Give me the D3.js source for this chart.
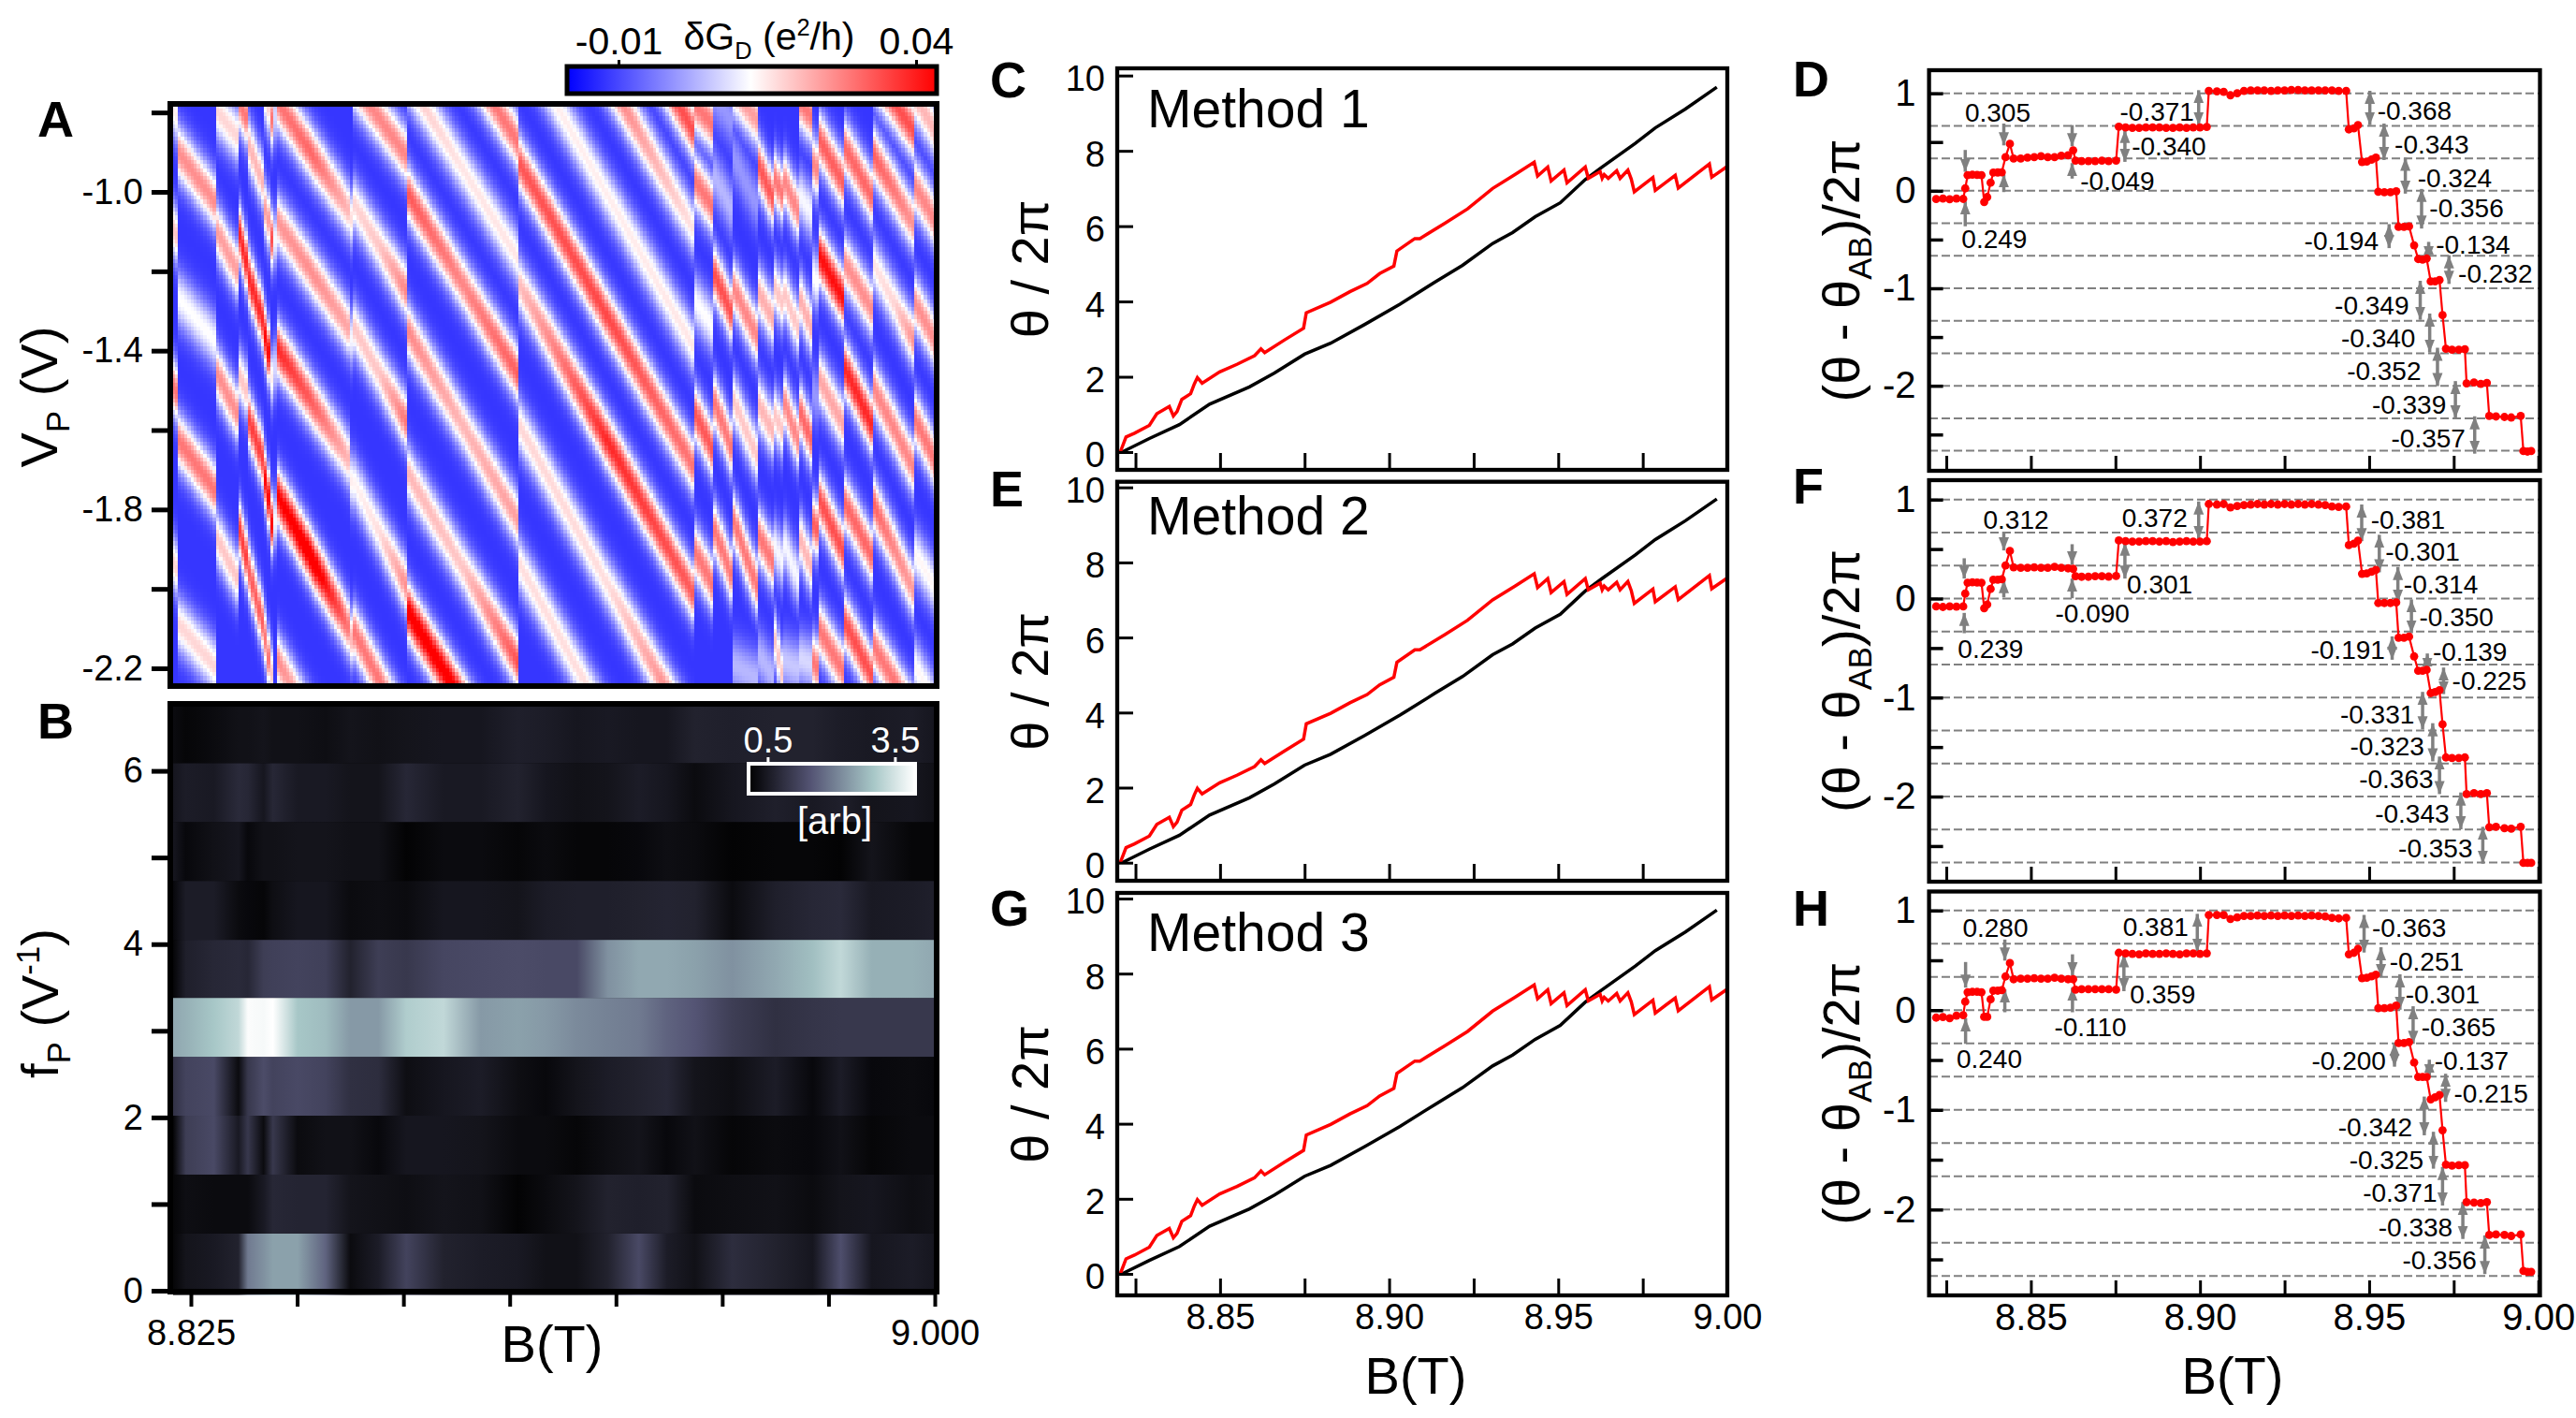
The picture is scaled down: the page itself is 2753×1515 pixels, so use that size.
<!DOCTYPE html>
<html>
<head>
<meta charset="utf-8">
<script src="https://cdn.jsdelivr.net/npm/d3@7"></script>
<style>
  html, body { margin: 0; padding: 0; background: #fff; }
  svg { display: block; }
  text { font-family: "Liberation Sans", Arial, sans-serif; fill: #000; }
</style>
</head>
<body>
<div id="fig"></div>
<script>
// --- panel A: stripes, one list per sector between the jumps
// each crest is [V at left edge, V at right edge, peak dG] (peak may be [left, mid, right])
var sectorEdges = [8.8208, 8.8220, 8.8310, 8.8360, 8.8382, 8.8421, 8.8435, 8.8443, 8.8450, 8.8621, 8.8628, 8.8756, 8.9022,
  8.9437, 8.9478, 8.9525, 8.9584, 8.9624, 8.9643, 8.9678, 8.9712, 8.9725, 8.9785, 8.9852, 8.9952, 8.9998];
var sectorCrests = [
  [[-.795,-.815,.015],[-1.097,-1.117,.02],[-1.493,-1.513,.03],[-1.936,-1.956,.018]],
  [[-.899,-1.031,.027],[-1.266,-1.380,.013],[-1.625,-1.757,.03],[-2.087,-2.200,.018]],
  [[-.795,-.861,.018],[-1.097,-1.200,.025],[-1.455,-1.559,.027],[-1.870,-1.974,.02]],
  [[-.767,-.814,.03],[-1.087,-1.181,.04],[-1.455,-1.502,.02],[-1.832,-1.926,.037]],
  [[-.870,-.983,.022],[-1.200,-1.332,.04],[-1.559,-1.681,.037],[-1.936,-2.096,.033]],
  [[-.748,-.795,.018],[-1.031,-1.078,.025],[-1.342,-1.417,.044],[-1.700,-1.785,.044],[-2.096,-2.190,.03]],
  [[-.804,-.824,.03],[-1.106,-1.126,.035],[-1.455,-1.475,.015],[-1.823,-1.843,.044],[-2.200,-2.220,.02]],
  [[-.795,-.815,.008],[-1.106,-1.126,.012],[-1.430,-1.450,.008],[-1.813,-1.833,.012]],
  [[-.767,-1.045,[.03,.032,.022]],[-1.068,-1.342,[.026,.027,.024]],[-1.389,-1.672,[.04,.033,.022]],[-1.757,-2.096,[.044,.05,.03]],[-2.172,-2.502,[.028,.02,.02]]],
  [[-1.059,-1.069,.017],[-1.361,-1.371,.012],[-1.719,-1.729,.015],[-2.115,-2.125,.022]],
  [[-.719,-.908,.028],[-1.021,-1.248,[.018,.02,.028]],[-1.332,-1.578,[.02,.02,.03]],[-1.719,-1.992,[.014,.017,.027]],[-2.096,-2.360,.03]],
  [[-.427,-.880,.03],[-.710,-1.172,[.02,.016,.016]],[-.998,-1.464,[.034,.028,.033]],[-1.342,-1.832,[.028,.022,.025]],[-1.700,-2.190,[.022,.02,.035]],[-2.049,-2.520,.047]],
  [[-.083,-.856,.035],[-.319,-1.101,[.03,.03,.016]],[-.616,-1.398,[.015,.015,.016]],[-.927,-1.700,[.034,.036,.03]],[-1.233,-2.021,[.021,.04,.033]],[-1.587,-2.386,[.018,.017,.032]],[-1.936,-2.737,.017]],
  [[-.781,-.833,.03],[-.974,-1.040,.03],[-1.276,-1.342,.013],[-1.559,-1.653,.034],[-1.908,-1.992,.03]],
  [[-.757,-.823,0],[-.955,-1.049,.004],[-1.200,-1.314,.035],[-1.521,-1.653,.03],[-1.842,-1.974,.03]],
  [[-.738,-.823,.025],[-.908,-1.040,0],[-1.238,-1.370,.028],[-1.521,-1.672,.02],[-1.823,-2.002,.03],[-2.190,-2.228,.004]],
  [[-.927,-1.031,.034],[-1.248,-1.332,.023],[-1.530,-1.615,.022],[-1.860,-1.945,.03],[-2.162,-2.228,.004]],
  [[-.965,-1.012,.03],[-1.238,-1.285,.02],[-1.559,-1.606,.02],[-1.889,-1.936,.012],[-2.124,-2.228,.02]],
  [[-.965,-1.049,.028],[-1.248,-1.342,.02],[-1.521,-1.625,.028],[-1.879,-1.974,.012],[-2.180,-2.200,.006]],
  [[-.767,-.814,.03],[-1.002,-1.059,.012],[-1.257,-1.351,.023],[-1.540,-1.634,.032],[-1.860,-1.955,.022],[-2.171,-2.191,.008]],
  [[-.926,-.946,.028],[-1.209,-1.229,.013],[-1.502,-1.522,0],[-1.832,-1.852,.033],[-2.180,-2.200,.03]],
  [[-.861,-.979,.033],[-1.153,-1.271,.043],[-1.464,-1.587,.024],[-1.766,-1.908,.035],[-2.096,-2.209,.03]],
  [[-.880,-1.012,.032],[-1.172,-1.295,.027],[-1.436,-1.587,.04],[-1.776,-1.917,.032],[-2.077,-2.219,.035]],
  [[-.691,-.851,.035],[-.899,-1.087,[.033,.03,.026]],[-1.172,-1.380,[.016,.018,.027]],[-1.483,-1.700,.028],[-1.776,-2.011,[.033,.028,.025]],[-2.134,-2.322,.03]],
  [[-.757,-.842,.022],[-.983,-1.068,.028],[-1.276,-1.370,.027],[-1.568,-1.672,.03],[-1.908,-1.992,.014],[-2.190,-2.285,.014]]
];

// --- panel B: FFT amplitude, rows from low f to high f, sampled at fftB
var fftB = [8.8209,8.8238,8.8304,8.8362,8.8384,8.8421,8.8443,8.8501,8.8567,8.8625,8.8691,8.8757,8.8844,8.8932,8.9019,8.9085,8.9158,8.9231,8.9304,8.9370,8.9436,8.9523,8.9625,8.9713,8.9779,8.9852,8.9947,8.9998];
var fftEdges = [-0.05, .66, 1.34, 2.02, 2.70, 3.38, 4.05, 4.73, 5.41, 6.09, 6.76];
var fftRows = [
  [.1,.35,.45,.6,2.0,2.3,2.5,2.5,1.7,.2,.5,1.2,.6,.5,.45,.3,.3,.6,1.3,.5,.3,.8,.6,.4,1.4,.4,.5,.4],
  [.1,.25,.2,.2,.2,.45,.7,.65,.65,.35,.3,.25,.35,.3,.05,.2,.35,.6,.55,.6,.2,.25,.3,.2,.35,.4,.25,.3],
  [.1,1.1,1.3,.45,1.0,.2,1.0,.2,.3,.3,.15,.4,.4,.35,.2,.2,.1,.25,.35,.15,.3,.1,.2,.15,.3,.1,.2,.2],
  [.9,1.2,1.3,.2,1.0,1.35,1.2,1.3,1.2,.85,.8,.25,.4,.5,.25,.15,.35,.5,.6,.7,.35,.25,.5,.15,.5,.15,.2,.15],
  [2.6,2.7,3.0,3.3,3.95,3.9,4.0,3.0,2.85,2.4,2.4,3.1,3.3,2.4,2.5,2.4,2.2,2.1,2.0,1.7,1.5,1.1,.85,.95,1.0,1.0,1.0,1.0],
  [.1,.55,.7,.75,.7,1.1,1.15,1.2,1.15,.6,1.1,1.0,1.25,1.3,1.35,1.3,1.3,2.3,2.6,2.6,2.5,2.3,2.6,2.9,3.3,2.7,2.7,2.6],
  [.15,.5,.5,.2,.15,.1,.25,.4,.4,.2,.25,.2,.4,.4,.35,.5,.55,.55,.6,.65,.6,.2,.55,.7,.75,.45,.5,.55],
  [.4,.15,.3,.4,.15,.3,.3,.35,.35,.3,.3,.05,.2,.2,.1,.2,.1,.1,.15,.25,.2,.05,.1,.1,.05,.35,.1,.1],
  [.4,.5,.45,.75,.7,.4,.7,.45,.45,.35,.35,.7,.45,.45,.6,.4,.3,.35,.5,.4,.2,.4,.55,.45,.55,.35,.4,.3],
  [.2,.1,.2,.3,.3,.35,.3,.3,.25,.35,.3,.35,.4,.4,.55,.5,.4,.45,.4,.4,.6,.55,.6,.6,.5,.45,.5,.4]
];

// --- panels C, E, G: total phase (red) and Aharonov-Bohm phase (black)
var thetaB = [8.8205,8.8222,8.8247,8.8291,8.8313,8.8350,8.8362,8.8373,8.8387,8.8413,8.8424,8.8433,8.8447,8.8499,8.8550,8.8602,8.8621,8.8632,8.8691,8.8747,8.8755,8.8827,8.8884,8.8935,8.8972,8.9014,8.9023,8.9076,8.9091,8.9165,8.9232,8.9306,8.9372,8.9429,8.9439,8.9469,8.9479,8.9517,8.9526,8.9580,8.9589,8.9624,8.9630,8.9636,8.9648,8.9673,8.9683,8.9706,8.9716,8.9725,8.9780,8.9787,8.9846,8.9855,8.9947,8.9954,8.9999];
var thetaRed = [0,.40,.50,.71,1.02,1.21,.96,1.08,1.40,1.55,1.81,1.98,1.83,2.13,2.33,2.56,2.74,2.64,2.98,3.29,3.70,3.98,4.26,4.48,4.74,4.94,5.34,5.67,5.67,6.08,6.46,7.00,7.37,7.70,7.33,7.57,7.20,7.49,7.15,7.57,7.27,7.45,7.27,7.37,7.27,7.47,7.27,7.49,7.25,6.91,7.29,6.95,7.35,7.01,7.65,7.30,7.58];
var abB = [8.8210,8.8291,8.8380,8.8469,8.8587,8.8661,8.8750,8.8827,8.8928,8.9032,8.9135,8.9217,8.9306,8.9365,8.9432,8.9506,8.9580,8.9631,8.9728,8.9787,8.9876,8.9969];
var abTheta = [0,.36,.73,1.27,1.73,2.10,2.60,2.89,3.39,3.93,4.51,4.96,5.54,5.83,6.25,6.62,7.24,7.58,8.20,8.61,9.11,9.69];
var methodNames = ["Method 1", "Method 2", "Method 3"];

// --- panels D, F, H: theta - theta_AB
var stepB = [8.822,8.824,8.826,8.828,8.830, 8.8306, 8.8313,8.8327,8.8341,8.8354, 8.8362,8.8371,8.8381, 8.8389,8.8402,8.8414, 8.8425,8.8438,
  8.8449,8.847,8.849,8.851,8.853,8.855,8.857,8.859,8.861,8.8625, 8.8632,8.865,8.867,8.869,8.871,8.873,8.8752,
  8.8760,8.878,8.880,8.882,8.884,8.886,8.888,8.890,8.892,8.894,8.896,8.898,8.900,8.902,
  8.9026,8.905,8.907,8.909,8.911,8.913,8.915,8.917,8.919,8.921,8.923,8.925,8.927,8.929,8.931,8.933,8.935,8.937,8.939,8.941,8.9432,
  8.944,8.9455,8.9467, 8.9479,8.9493,8.9507,8.952, 8.9527,8.9545,8.9563,8.958, 8.9587,8.9603,8.9618, 8.9633, 8.9645,8.9658,8.967,
  8.9682,8.9695,8.9708, 8.9717, 8.9727,8.9745,8.9765,8.9783, 8.9788,8.981,8.983,8.9848, 8.9855,8.9875,8.99,8.992,8.9948, 8.9956,8.9968,8.9979];
var stepD = [-.085,-.08,-.086,-.08,-.083, .025, .16,.165,.163,.16, -.115,-.064,.083, .186,.188,.19, .345,.482,
  .33,.33,.34,.345,.355,.345,.345,.36,.365,.415, .31,.305,.305,.305,.31,.305,.31,
  .658,.65,.645,.645,.65,.65,.65,.645,.645,.65,.645,.65,.65,.655,
  1.025,1.02,1.015,.98,1.0,1.025,1.03,1.03,1.03,1.025,1.03,1.03,1.035,1.035,1.03,1.03,1.03,1.03,1.03,1.025,1.025,
  .63,.64,.675, .295,.30,.32,.34, -.01,-.015,-.015,-.005, -.37,-.37,-.365, -.559, -.70,-.705,-.695,
  -.93,-.93,-.915, -1.275, -1.62,-1.63,-1.63,-1.625, -1.975,-1.965,-1.98,-1.97, -2.31,-2.315,-2.32,-2.325,-2.31, -2.67,-2.675,-2.67];
var stepF = [-.08,-.085,-.08,-.082,-.08, .05, .16,.165,.162,.16, -.098,-.06,.098, .19,.19,.195, .334,.48,
  .315,.31,.31,.315,.31,.31,.32,.31,.305,.30, .225,.22,.22,.225,.225,.222,.228,
  .587,.58,.575,.575,.58,.58,.575,.58,.57,.575,.58,.575,.575,.58,
  .955,.95,.955,.92,.935,.945,.95,.955,.95,.955,.95,.955,.95,.955,.95,.955,.95,.945,.93,.925,.93,
  .54,.555,.585, .25,.255,.27,.29, -.045,-.045,-.045,-.04, -.395,-.395,-.385, -.584, -.73,-.73,-.72,
  -.955,-.945,-.925, -1.271, -1.605,-1.61,-1.61,-1.605, -1.975,-1.965,-1.975,-1.965, -2.31,-2.305,-2.32,-2.325,-2.305, -2.67,-2.67,-2.67];
var stepH = [-.075,-.07,-.08,-.055,-.05, .085, .18,.185,.185,.18, -.067,-.067,.109, .195,.195,.2, .338,.472,
  .31,.315,.315,.32,.315,.315,.325,.315,.31,.31, .205,.21,.21,.21,.21,.21,.205,
  .575,.57,.565,.56,.57,.565,.565,.57,.565,.56,.57,.57,.565,.57,
  .955,.955,.955,.915,.93,.945,.945,.95,.945,.95,.945,.95,.945,.95,.945,.95,.945,.94,.925,.92,.925,
  .56,.575,.615, .32,.325,.34,.355, .02,.02,.025,.045, -.33,-.33,-.32, -.525, -.67,-.67,-.67,
  -.895,-.875,-.85, -1.205, -1.55,-1.56,-1.555,-1.555, -1.925,-1.93,-1.935,-1.925, -2.255,-2.25,-2.255,-2.265,-2.25, -2.615,-2.625,-2.625];
var levels = d3.range(12).map(function(i) { return 1 - i / 3; });

// annotations: [text, B, value] and arrows [B, from, to, heads]
var labelsD = [["0.305",8.8402,.808],["0.249",8.8392,-.492],["-0.371",8.8873,.818],["-0.340",8.8908,.457],["-0.049",8.8756,.105],["-0.368",8.9634,.821],["-0.343",8.9685,.482],["-0.324",8.9753,.134],["-0.356",8.9788,-.173],["-0.194",8.9418,-.508],["-0.134",8.9807,-.546],["-0.232",8.9873,-.843],["-0.349",8.9508,-1.173],["-0.340",8.9527,-1.505],["-0.352",8.9544,-1.843],["-0.339",8.9618,-2.192],["-0.357",8.9675,-2.537]];
var arrowsD = [[8.8306,-.364,-.109,1],[8.8306,.419,.195,1],[8.8420,.690,.466,1],[8.8420,-.013,.169,1],[8.8622,.674,.457,1],[8.8622,.125,.284,1],[8.8778,.626,.297,2],[8.8996,1.032,.674,2],[8.9502,1.026,.674,2],[8.9544,.690,.316,2],[8.9607,.339,-.029,2],[8.9655,.019,-.387,2],[8.9559,-.342,-.588,2],[8.9676,-.524,-.700,2],[8.9736,-.661,-.955,2],[8.9651,-.923,-1.323,2],[8.9679,-1.259,-1.658,2],[8.9702,-1.610,-2.003,2],[8.9755,-1.952,-2.335,2],[8.9812,-2.313,-2.696,2]];
var labelsF = [["0.312",8.8456,.801],["0.239",8.8381,-.502],["0.372",8.8866,.823],["0.301",8.8881,.145],["-0.090",8.8682,-.145],["-0.381",8.9615,.801],["-0.301",8.9658,.476],["-0.314",8.9712,.148],["-0.350",8.9758,-.183],["-0.191",8.9437,-.514],["-0.139",8.9798,-.530],["-0.225",8.9855,-.830],["-0.331",8.9524,-1.164],["-0.323",8.9553,-1.486],["-0.363",8.9580,-1.823],["-0.343",8.9627,-2.170],["-0.353",8.9696,-2.517]];
var arrowsF = [[8.8303,-.350,-.145,1],[8.8303,.407,.202,1],[8.8420,.675,.486,1],[8.8420,.013,.186,1],[8.8622,.549,.344,1],[8.8622,.003,.202,1],[8.8778,.565,.202,2],[8.8996,.981,.603,2],[8.9478,.950,.580,2],[8.9530,.644,.265,2],[8.9585,.319,-.041,2],[8.9625,-.009,-.350,2],[8.9568,-.382,-.618,2],[8.9672,-.555,-.729,2],[8.9720,-.697,-.965,2],[8.9658,-.943,-1.322,2],[8.9688,-1.259,-1.644,2],[8.9708,-1.596,-1.975,2],[8.9771,-1.959,-2.331,2],[8.9836,-2.306,-2.678,2]];
var labelsH = [["0.280",8.8395,.832],["0.240",8.8377,-.486],["0.381",8.8869,.835],["0.359",8.8890,.166],["-0.110",8.8676,-.162],["-0.363",8.9618,.825],["-0.251",8.9670,.490],["-0.301",8.9717,.166],["-0.365",8.9764,-.169],["-0.200",8.9440,-.508],["-0.137",8.9803,-.504],["-0.215",8.9860,-.832],["-0.342",8.9518,-1.167],["-0.325",8.9551,-1.495],["-0.371",8.9591,-1.826],["-0.338",8.9637,-2.171],["-0.356",8.9708,-2.499]];
var arrowsH = [[8.8307,-.338,-.081,1],[8.8307,.483,.226,1],[8.8423,.708,.497,1],[8.8423,-.021,.208,1],[8.8623,.560,.349,1],[8.8623,-.021,.226,1],[8.8775,.560,.190,2],[8.8992,.966,.589,2],[8.9485,.955,.578,2],[8.9535,.631,.331,2],[8.9591,.360,.004,2],[8.9630,.039,-.338,2],[8.9575,-.328,-.567,2],[8.9678,-.497,-.673,2],[8.9726,-.638,-.920,2],[8.9663,-.867,-1.255,2],[8.9690,-1.220,-1.590,2],[8.9717,-1.572,-1.960,2],[8.9777,-1.925,-2.295,2],[8.9842,-2.259,-2.647,2]];

var tickBig = 38, labelBig = 56, letterSize = 54, noteSize = 28;

var svg = d3.select("#fig").append("svg").attr("width", 2753).attr("height", 1515);
var defs = svg.append("defs");
defs.append("marker").attr("id", "head").attr("markerUnits", "userSpaceOnUse")
    .attr("markerWidth", 16).attr("markerHeight", 14).attr("refX", 14).attr("refY", 7)
    .attr("orient", "auto-start-reverse")
  .append("path").attr("d", "M0,1.5L14,7L0,12.5Z").attr("fill", "#808080");

// text with sub/superscripts: parts are [string, "sub"|"sup"|undefined]
function rich(sel, parts, fs) {
  var shift = 0;
  parts.forEach(function(p) {
    var target = p[1] == "sub" ? .24 * fs : p[1] == "sup" ? -.36 * fs : 0;
    sel.append("tspan").attr("dy", target - shift)
        .attr("font-size", p[1] ? fs * .62 : fs).text(p[0]);
    shift = target;
  });
  return sel;
}
function letter(t, x, y) {
  svg.append("text").attr("x", x).attr("y", y).attr("font-size", letterSize).attr("font-weight", "bold").text(t);
}
function yTitle(parts, x, y) {
  var t = svg.append("text").attr("transform", "translate(" + x + "," + y + ") rotate(-90)")
      .attr("text-anchor", "middle").attr("font-size", labelBig);
  rich(t, parts, labelBig);
}
function frame(x0, y0, x1, y1, w) {
  svg.append("rect").attr("x", x0).attr("y", y0).attr("width", x1 - x0).attr("height", y1 - y0)
      .attr("fill", "none").attr("stroke", "#000").attr("stroke-width", w);
}
function styleAxis(g, w, fs) {
  g.select(".domain").remove();
  g.selectAll("line").attr("stroke", "#000").attr("stroke-width", w);
  g.selectAll("text").attr("font-size", fs).attr("font-family", null);
  g.attr("font-family", null);
}

// ---------- A ----------
var xAB = d3.scaleLinear().domain([8.825, 9.0]).range([204, 999]);
var yA = d3.scaleLinear().domain([-1.0, -2.2]).range([205, 714]);
var dGColor = d3.scaleLinear().domain([-0.0186, 0.0128, 0.0446]).range(["#0000ff", "#ffffff", "#ff0000"]).clamp(true);

var dGBase = -0.012, crestWidth = 0.07;
function dGAt(b, v) {
  var s = Math.min(d3.bisectRight(sectorEdges, b) - 1, sectorCrests.length - 1);
  s = Math.max(s, 0);
  var t = (b - sectorEdges[s]) / (sectorEdges[s + 1] - sectorEdges[s]);
  var best = dGBase;
  sectorCrests[s].forEach(function(c) {
    var centre = c[0] + (c[1] - c[0]) * t;
    var pk = c[2];
    if (Array.isArray(pk)) pk = d3.scaleLinear().domain([0, .5, 1]).range(pk)(t);
    var d = (v - centre) / crestWidth;
    best = Math.max(best, dGBase + (pk - dGBase) * Math.exp(-d * d));
  });
  return best;
}
svg.append("clipPath").attr("id", "clipA").append("rect").attr("x", 182).attr("y", 111).attr("width", 819).attr("height", 622);
var cells = [];
var colBs = d3.range(8.8204, 8.9998, 0.00075), rowVs = d3.range(-0.765, -2.25, -0.01);
colBs.forEach(function(b) { rowVs.forEach(function(v) { cells.push([b, v]); }); });
var cw = xAB(0.00075) - xAB(0), ch = yA(-0.01) - yA(0);
svg.append("g").attr("clip-path", "url(#clipA)").attr("shape-rendering", "crispEdges")
  .selectAll("rect").data(cells).join("rect")
    .attr("x", function(d) { return xAB(d[0]); })
    .attr("y", function(d) { return yA(d[1]) - ch / 2; })
    .attr("width", cw + .5).attr("height", ch + .5)
    .attr("fill", function(d) { return dGColor(dGAt(d[0] + .000375, d[1])); });
frame(182, 111, 1001, 733, 6);
var gA = svg.append("g").attr("transform", "translate(182,0)")
    .call(d3.axisLeft(yA).tickValues([-0.8, -1.0, -1.2, -1.4, -1.6, -1.8, -2.0, -2.2]).tickSize(20).tickPadding(9)
      .tickFormat(function(d) { return Math.round(d * 10) % 4 == -2 ? d.toFixed(1) : ""; }));
styleAxis(gA, 5, tickBig);
letter("A", 40, 146);
yTitle([["V"], ["P", "sub"], ["\u00a0(V)"]], 61, 424);

// dG colorbar
function colorbar(id, scale, stops, x0, x1, y0, y1, stroke, sw) {
  var grad = defs.append("linearGradient").attr("id", id);
  var bar = d3.scaleLinear().domain([stops[0], stops[stops.length - 1]]).range([0, 100]);
  stops.forEach(function(s, i) {
    grad.append("stop").attr("offset", bar(s) + "%").attr("stop-color", scale(s));
  });
  svg.append("rect").attr("x", x0).attr("y", y0).attr("width", x1 - x0).attr("height", y1 - y0)
      .attr("fill", "url(#" + id + ")").attr("stroke", stroke).attr("stroke-width", sw);
}
colorbar("gradA", dGColor, dGColor.domain(), 606, 1001, 71, 100, "#000", 5);
var xBarA = d3.scaleLinear().domain([-0.01, 0.04]).range([661, 979]);
var gBarA = svg.append("g").attr("transform", "translate(0,69)")
    .call(d3.axisTop(xBarA).tickValues([-0.01, 0.04]).tickSize(5).tickPadding(6).tickFormat(function(d) { return d.toFixed(2); }));
styleAxis(gBarA, 3, 41);
var tA = svg.append("text").attr("x", 822).attr("y", 53).attr("text-anchor", "middle").attr("font-size", 41);
rich(tA, [["\u03b4G"], ["D", "sub"], ["\u00a0(e"], ["2", "sup"], ["/h)"]], 41);

// ---------- B ----------
var yB = d3.scaleLinear().domain([0, 6]).range([1379, 823.6]);
var fftColor = d3.scaleLinear().domain([0, 1.5, 3, 4]).range(["#000000", "#545474", "#a7c7c7", "#ffffff"]).clamp(true);
svg.append("rect").attr("x", 182).attr("y", 752).attr("width", 819).attr("height", 628).attr("fill", "#000");
var fx = d3.scaleLinear().domain([xAB.invert(185), xAB.invert(998)]).range([0, 100]);
fftRows.forEach(function(row, r) {
  var grad = defs.append("linearGradient").attr("id", "fft" + r);
  row.forEach(function(v, i) {
    grad.append("stop").attr("offset", fx(fftB[i]) + "%").attr("stop-color", fftColor(v));
  });
});
svg.append("g").selectAll("rect").data(fftRows).join("rect")
    .attr("x", 185).attr("width", 813)
    .attr("y", function(d, r) { return yB(fftEdges[r + 1]); })
    .attr("height", function(d, r) { return yB(fftEdges[r]) - yB(fftEdges[r + 1]); })
    .attr("fill", function(d, r) { return "url(#fft" + r + ")"; });
frame(182, 752, 1001, 1380, 6);
var gBy = svg.append("g").attr("transform", "translate(182,0)")
    .call(d3.axisLeft(yB).tickValues(d3.range(0, 7)).tickSize(20).tickPadding(9)
      .tickFormat(function(d) { return d % 2 ? "" : d; }));
styleAxis(gBy, 5, tickBig);
var gBx = svg.append("g").attr("transform", "translate(0,1380)")
    .call(d3.axisBottom(xAB).tickValues(d3.range(0, 8).map(function(i) { return 8.825 + i * .025; })).tickSize(16).tickPadding(14)
      .tickFormat(function(d, i) { return i == 0 || i == 7 ? d.toFixed(3) : ""; }));
styleAxis(gBx, 4, tickBig);
svg.append("text").attr("x", 590).attr("y", 1455).attr("text-anchor", "middle").attr("font-size", labelBig).text("B(T)");
letter("B", 40, 789);
yTitle([["f"], ["P", "sub"], ["\u00a0(V"], ["-1", "sup"], [")"]], 62, 1072);

colorbar("gradB", fftColor, fftColor.domain(), 800, 978, 816, 848, "#fff", 4);
var xBarB = d3.scaleLinear().domain([.5, 3.5]).range([820.4, 956.4]);
var gBarB = svg.append("g").attr("transform", "translate(0,814)")
    .call(d3.axisTop(xBarB).tickValues([.5, 3.5]).tickSize(5).tickPadding(5).tickFormat(d3.format(".1f")));
styleAxis(gBarB, 3, 38);
gBarB.selectAll("line").attr("stroke", "#fff");
gBarB.selectAll("text").style("fill", "#fff");
svg.append("text").attr("x", 892).attr("y", 891).attr("text-anchor", "middle").attr("font-size", 40).style("fill", "#fff").text("[arb]");

// ---------- C, E, G ----------
var midTicks = d3.range(0, 8).map(function(i) { return 8.825 + i * .025; });
var xMid = d3.scaleLinear().domain([8.8196, 9.0]).range([1194, 1846]);
// [frame top, frame bottom, y of theta=0, y of theta=10, letter, letter baseline, title baseline]
[[73, 502, 483, 80.7, "C", 104, 136], [514.7, 941, 921.7, 520.7, "E", 541, 571], [954, 1384, 1361, 960, "G", 989, 1016]].forEach(function(p, i) {
  var y = d3.scaleLinear().domain([0, 10]).range([p[2], p[3]]);
  var phaseLine = d3.line().x(function(d) { return xMid(d[0]); }).y(function(d) { return y(d[1]); });
  var g = svg.append("g");
  g.append("path").datum(d3.zip(abB, abTheta)).attr("fill", "none").attr("stroke", "#000").attr("stroke-width", 3.5).attr("d", phaseLine);
  g.append("path").datum(d3.zip(thetaB, thetaRed)).attr("fill", "none").attr("stroke", "#ff0000").attr("stroke-width", 3.5).attr("d", phaseLine);
  frame(1194, p[0], 1846, p[1], 4.3);
  var gy = svg.append("g").attr("transform", "translate(1194,0)")
      .call(d3.axisLeft(y).tickValues(d3.range(0, 11, 2)).tickSize(-17).tickPadding(13));
  styleAxis(gy, 3, tickBig);
  gy.selectAll("text").attr("dy", ".42em");
  var gx = svg.append("g").attr("transform", "translate(0," + p[1] + ")")
      .call(d3.axisBottom(xMid).tickValues(midTicks).tickSize(-18).tickPadding(9)
        .tickFormat(function(d, k) { return i == 2 && k % 2 == 1 ? d.toFixed(2) : ""; }));
  styleAxis(gx, 3, tickBig);
  gx.selectAll("text").attr("y", 9).attr("dy", ".71em");
  svg.append("text").attr("x", 1226).attr("y", p[6]).attr("font-size", 57).text(methodNames[i]);
  letter(p[4], 1058, p[5]);
  yTitle([["\u03b8 / 2\u03c0"]], 1120, (p[0] + p[1]) / 2);
});
svg.append("text").attr("x", 1513).attr("y", 1489).attr("text-anchor", "middle").attr("font-size", labelBig).text("B(T)");

// ---------- D, F, H ----------
var xRight = d3.scaleLinear().domain([8.8199, 9.0005]).range([2061.6, 2714.5]);
[[75, 503, 1.237, -2.872, "D", 103, stepD, labelsD, arrowsD],
 [513, 942, 1.196, -2.86, "F", 538, stepF, labelsF, arrowsF],
 [952.5, 1384, 1.19, -2.861, "H", 989, stepH, labelsH, arrowsH]].forEach(function(p, i) {
  var y = d3.scaleLinear().domain([p[3], p[2]]).range([p[1], p[0]]);
  var g = svg.append("g");
  g.selectAll(".lvl").data(levels).join("line").attr("class", "lvl")
      .attr("x1", 2062).attr("x2", 2714)
      .attr("y1", y).attr("y2", y)
      .attr("stroke", "#808080").attr("stroke-width", 2).attr("stroke-dasharray", "9,4");
  g.selectAll(".arr").data(p[8]).join("line").attr("class", "arr")
      .attr("x1", function(d) { return xRight(d[0]); }).attr("x2", function(d) { return xRight(d[0]); })
      .attr("y1", function(d) { return y(d[1]); }).attr("y2", function(d) { return y(d[2]); })
      .attr("stroke", "#808080").attr("stroke-width", 3.5)
      .attr("marker-end", "url(#head)")
      .attr("marker-start", function(d) { return d[3] == 2 ? "url(#head)" : null; });
  var pts = d3.zip(stepB, p[6]);
  g.append("path").datum(pts).attr("fill", "none").attr("stroke", "#ff0000").attr("stroke-width", 2.2)
      .attr("d", d3.line().x(function(d) { return xRight(d[0]); }).y(function(d) { return y(d[1]); }));
  g.selectAll(".dot").data(pts).join("circle").attr("class", "dot")
      .attr("cx", function(d) { return xRight(d[0]); }).attr("cy", function(d) { return y(d[1]); })
      .attr("r", 4.4).attr("fill", "#ff0000");
  g.selectAll(".note").data(p[7]).join("text").attr("class", "note")
      .attr("x", function(d) { return xRight(d[1]); }).attr("y", function(d) { return y(d[2]); })
      .attr("dy", ".36em").attr("text-anchor", "middle").attr("font-size", noteSize)
      .text(function(d) { return d[0]; });
  frame(2061.6, p[0], 2714.5, p[1], 4.3);
  var gy = svg.append("g").attr("transform", "translate(2061.6,0)")
      .call(d3.axisLeft(y).tickValues(d3.range(-2.5, 1.01, .5)).tickSize(-15).tickPadding(14)
        .tickFormat(function(d) { return d % 1 == 0 ? d : ""; }));
  styleAxis(gy, 3.5, tickBig + 2);
  var gx = svg.append("g").attr("transform", "translate(0," + p[1] + ")")
      .call(d3.axisBottom(xRight).tickValues(midTicks).tickSize(-16)
        .tickFormat(function(d, k) { return i == 2 && k % 2 == 1 ? d.toFixed(2) : ""; }));
  styleAxis(gx, 3, tickBig + 2);
  gx.selectAll("text").attr("y", 9).attr("dy", ".71em");
  letter(p[4], 1916, p[5]);
  yTitle([["(\u03b8 - \u03b8"], ["AB", "sub"], [")/2\u03c0"]], 1987, (p[0] + p[1]) / 2);
});
svg.append("text").attr("x", 2386).attr("y", 1489).attr("text-anchor", "middle").attr("font-size", labelBig).text("B(T)");
</script>
</body>
</html>
